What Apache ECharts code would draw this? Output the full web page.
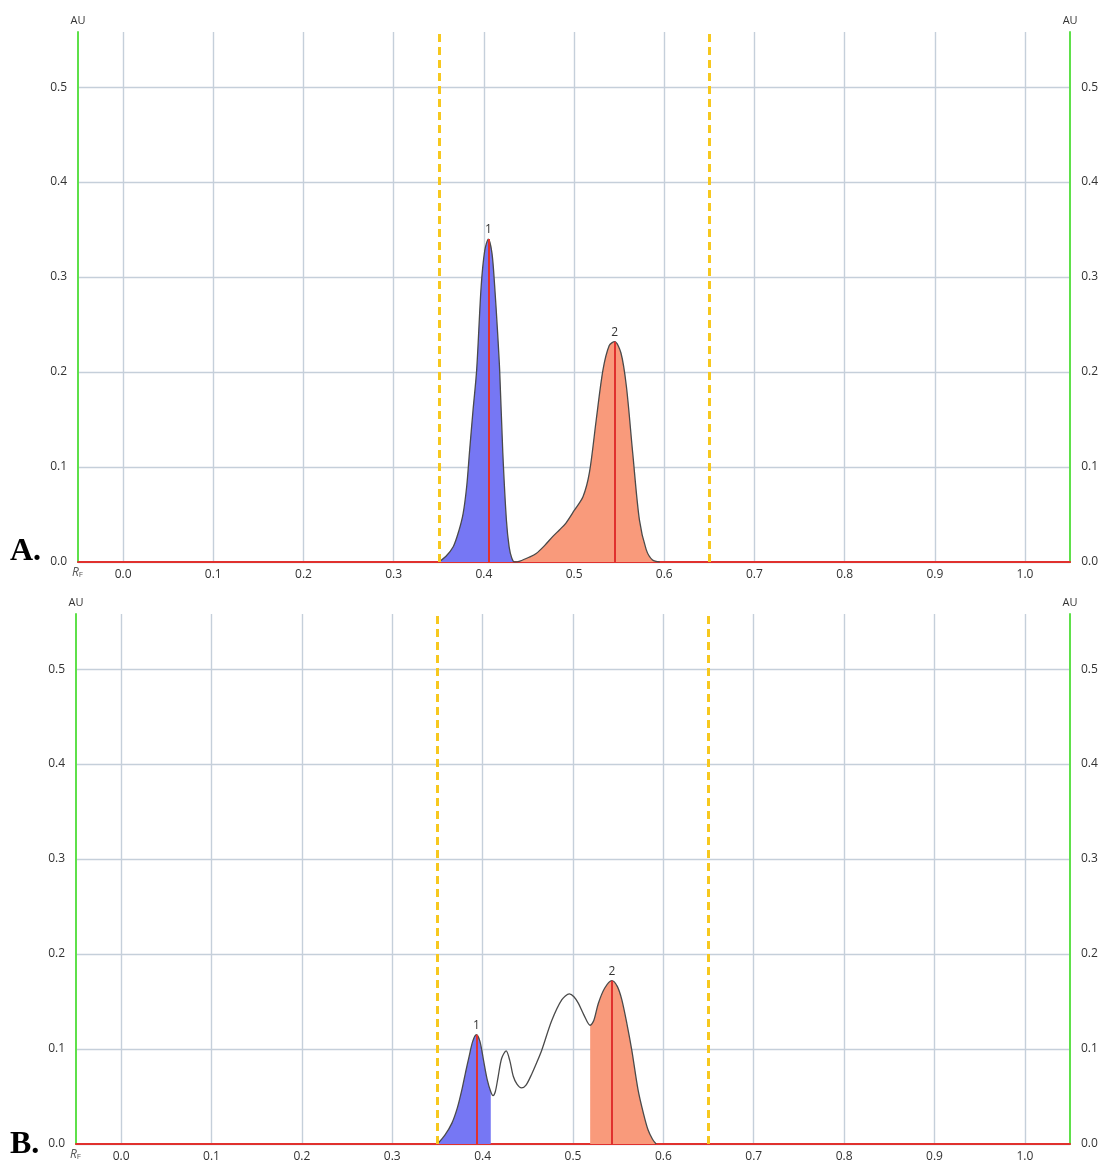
<!DOCTYPE html>
<html lang="en">
<head>
    <meta charset="UTF-8">
    <title>densitogram</title>
    <script src="https://cdn.jsdelivr.net/npm/echarts@6/dist/echarts.min.js"></script>
    <style>
        html, body, #main {
            padding: 0px;
            margin: 0px;
            width: 100%;
            height: 100%;
            background: #fff;
        }
    </style>
</head>
<body>
    <div id="main"></div>
    <script type="text/javascript">
        // x ticks (RF) and y ticks (AU)
        const rfTicks = [0, 0.1, 0.2, 0.3, 0.4, 0.5, 0.6, 0.7, 0.8, 0.9, 1.0];
        const auTicks = [0, 0.1, 0.2, 0.3, 0.4, 0.5];
        const frontLines = [0.35, 0.65];

        // panel A trace
        const rfA = [0.350, 0.358, 0.366, 0.372, 0.377, 0.381, 0.384, 0.388, 0.392, 0.397, 0.401, 0.405, 0.409, 0.412, 0.415, 0.4175, 0.421, 0.425, 0.428, 0.431, 0.434,
            0.440, 0.450, 0.458, 0.467, 0.4765, 0.484, 0.491, 0.500, 0.510, 0.517, 0.5245, 0.532, 0.539, 0.545, 0.552, 0.558, 0.565, 0.5725, 0.580, 0.587, 0.595];
        const auA = [0.000, 0.006, 0.016, 0.032, 0.051, 0.080, 0.115, 0.160, 0.202, 0.290, 0.328, 0.340, 0.325, 0.290, 0.245, 0.202, 0.115, 0.044, 0.016, 0.004, 0.000,
            0.001, 0.005, 0.009, 0.017, 0.027, 0.034, 0.041, 0.054, 0.069, 0.094, 0.149, 0.202, 0.228, 0.232, 0.220, 0.185, 0.115, 0.044, 0.013, 0.002, 0.000];
        const peakRfA = [0.405, 0.545];
        const peakAuA = [0.340, 0.232];
        const blueA = [0.350, 0.434];
        const orangeA = [0.434, 0.595];

        // panel B trace
        const rfB = [0.350, 0.358, 0.366, 0.372, 0.377, 0.381, 0.385, 0.389, 0.393, 0.397, 0.401, 0.405, 0.409, 0.4115, 0.414, 0.417, 0.421, 0.426, 0.430, 0.434,
            0.438, 0.443, 0.448, 0.4545, 0.460, 0.4655, 0.4765, 0.4877, 0.496, 0.501, 0.506, 0.512, 0.519, 0.523, 0.528, 0.535, 0.543, 0.549, 0.554, 0.560,
            0.565, 0.572, 0.578, 0.583, 0.588, 0.592];
        const auB = [0.000, 0.009, 0.022, 0.038, 0.057, 0.075, 0.092, 0.108, 0.115, 0.108, 0.088, 0.068, 0.055, 0.051, 0.055, 0.070, 0.090, 0.098, 0.088, 0.071,
            0.063, 0.059, 0.062, 0.074, 0.086, 0.099, 0.130, 0.152, 0.158, 0.155, 0.148, 0.136, 0.125, 0.130, 0.148, 0.164, 0.172, 0.166, 0.152, 0.125,
            0.099, 0.057, 0.032, 0.015, 0.005, 0.000];
        const peakRfB = [0.393, 0.543];
        const peakAuB = [0.115, 0.172];
        const blueB = [0.350, 0.409];
        const orangeB = [0.519, 0.592];

        const peakNames = ['1', '2'];

        const font = 'Open Sans';
        const gridColor = '#c5cfda';
        const green = '#5ee04a';
        const red = '#e0312e';

        let dom = document.getElementById('main');
        let chart = echarts.init(dom);

        function pairs(xs, ys, range) {
            let out = [];
            xs.forEach((x, i) => {
                if (!range || (x >= range[0] - 1e-9 && x <= range[1] + 1e-9)) out.push([x, ys[i]]);
            });
            return out;
        }

        function xAxisFor(gi) {
            return {
                type: 'value', gridIndex: gi, min: -0.05, max: 1.05,
                axisLine: { show: true, onZero: false, lineStyle: { color: red, width: 2 } },
                axisTick: { show: false, customValues: rfTicks },
                axisLabel: {
                    customValues: rfTicks, margin: 7, color: '#333', fontFamily: font, fontSize: 12,
                    formatter: v => v.toFixed(1)
                },
                splitLine: { show: true, lineStyle: { color: gridColor, width: 1.4 } }
            };
        }

        function yAxisFor(gi, pos) {
            return {
                type: 'value', gridIndex: gi, position: pos, min: 0, max: 0.558,
                name: 'AU', nameLocation: 'end', nameGap: 6,
                nameTextStyle: { color: '#333', fontFamily: font, fontSize: 11, align: 'center' },
                axisLine: { show: true, onZero: false, lineStyle: { color: green, width: 2 } },
                axisTick: { show: false, customValues: auTicks },
                axisLabel: {
                    customValues: auTicks, margin: 11, color: '#333', fontFamily: font, fontSize: 12,
                    formatter: v => v.toFixed(1)
                },
                splitLine: { show: pos === 'left', lineStyle: { color: gridColor, width: 1.4 } }
            };
        }

        function panelSeries(gi, rf, au, blue, orange, peakRf, peakAu) {
            let base = { type: 'line', xAxisIndex: gi, yAxisIndex: gi * 2, showSymbol: false, smooth: 0.3, silent: true };
            return [
                Object.assign({}, base, {
                    data: pairs(rf, au, blue),
                    lineStyle: { width: 0 },
                    areaStyle: { color: '#7677f4', opacity: 1 }
                }),
                Object.assign({}, base, {
                    data: pairs(rf, au, orange),
                    lineStyle: { width: 0 },
                    areaStyle: { color: '#f99a7b', opacity: 1 }
                }),
                Object.assign({}, base, {
                    data: pairs(rf, au),
                    lineStyle: { color: '#4a4a4a', width: 1.3 },
                    markLine: {
                        silent: true, symbol: 'none', animation: false,
                        data: [
                            ...frontLines.map(x => ({
                                xAxis: x,
                                lineStyle: { color: '#f7c81e', type: [8, 5], width: 3 },
                                label: { show: false }
                            })),
                            ...peakRf.map((x, i) => ([
                                { coord: [x, 0], lineStyle: { color: red, type: 'solid', width: 2 } },
                                {
                                    coord: [x, peakAu[i]],
                                    label: {
                                        show: true, position: 'end', distance: 3, formatter: peakNames[i],
                                        color: '#333', fontFamily: font, fontSize: 12
                                    }
                                }
                            ]))
                        ]
                    }
                })
            ];
        }

        function rfLabel(left, top) {
            return {
                type: 'text', left: left, top: top,
                style: {
                    text: '{r|R}{f|F}',
                    rich: {
                        r: { fontFamily: font, fontStyle: 'italic', fontSize: 12, fill: '#555' },
                        f: { fontFamily: font, fontSize: 8, fill: '#555', verticalAlign: 'bottom', padding: [4, 0, 0, 0] }
                    }
                }
            };
        }

        function panelLetter(text, left, top) {
            return {
                type: 'text', left: left, top: top,
                style: { text: text, fontFamily: 'Liberation Serif', fontWeight: 'bold', fontSize: 32, fill: '#000' }
            };
        }

        let option = {
            backgroundColor: '#fff',
            animation: false,
            grid: [
                { left: 78, right: 29, top: 32, height: 530 },
                { left: 76, right: 31, top: 614, height: 530 }
            ],
            xAxis: [xAxisFor(0), xAxisFor(1)],
            yAxis: [yAxisFor(0, 'left'), yAxisFor(0, 'right'), yAxisFor(1, 'left'), yAxisFor(1, 'right')],
            graphic: [
                panelLetter('A.', 10, 536),
                panelLetter('B.', 10, 1129),
                rfLabel(72, 567),
                rfLabel(70, 1149)
            ],
            series: [
                ...panelSeries(0, rfA, auA, blueA, orangeA, peakRfA, peakAuA),
                ...panelSeries(1, rfB, auB, blueB, orangeB, peakRfB, peakAuB)
            ]
        };

        chart.setOption(option);
        window.onresize = function () {
            chart.resize();
        };
    </script>
</body>
</html>
